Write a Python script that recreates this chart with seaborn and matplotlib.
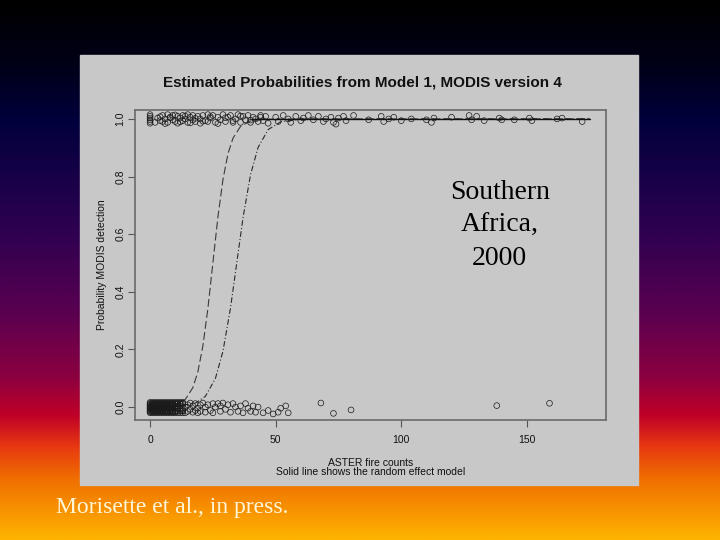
import numpy as np
import pandas as pd
import matplotlib
matplotlib.use("Agg")
import matplotlib.pyplot as plt
from matplotlib.colors import LinearSegmentedColormap
from matplotlib.patches import Rectangle
import seaborn as sns

# ----------------------------- #
#  Data
# ----------------------------- #
# detected fires (y ~ 1), x = ASTER fire counts, dy = vertical jitter
top_x = [
    0, 0, 0, 0, 0, 0, 3, 4, 5, 5,
    6, 7, 7, 8, 9, 9, 10, 11, 11, 12,
    13, 13, 14, 15, 15, 16, 17, 17, 18, 19,
    20, 20, 21, 22, 23, 23, 24, 25, 26, 27,
    28, 29, 30, 31, 32, 33, 34, 35, 36, 37,
    38, 39, 40, 41, 42, 43, 44, 45, 46, 47,
    50, 51, 53, 55, 56, 58, 60, 61, 63, 65,
    67, 69, 70, 72, 73, 74, 75, 77, 78, 81,
    87, 92, 93, 95, 97, 100, 104, 110, 112, 113,
    120, 127, 128, 130, 133, 139, 140, 145, 151, 152,
    162, 164, 172,
    2, 4, 6, 8, 10, 12, 14, 16, 18, 21,
    24, 27, 30, 33, 36, 40, 44]
top_dy = [
    0.015, 0.009, 0.003, -0.003, -0.009, -0.015, 0.003, -0.006, 0.012, -0.009,
    0.0, 0.015, -0.012, 0.006, -0.003, 0.012, -0.009, 0.009, -0.015, 0.003,
    0.012, -0.006, 0.0, 0.015, -0.012, 0.006, -0.003, 0.012, -0.009, 0.009,
    0.0, -0.015, 0.012, -0.006, 0.015, -0.009, 0.003, 0.012, -0.012, 0.006,
    -0.003, 0.015, -0.009, 0.006, 0.012, -0.006, 0.0, 0.015, -0.012, 0.009,
    -0.003, 0.012, -0.012, 0.006, 0.0, -0.009, 0.012, -0.006, 0.009, -0.015,
    0.006, -0.009, 0.012, 0.0, -0.012, 0.009, -0.006, 0.003, 0.012, -0.003,
    0.009, -0.009, 0.0, 0.006, -0.012, -0.018, 0.003, 0.009, -0.006, 0.012,
    -0.003, 0.009, -0.009, 0.0, 0.006, -0.006, 0.0, -0.003, -0.012, 0.003,
    0.006, 0.012, -0.003, 0.009, -0.006, 0.003, -0.003, -0.003, 0.003, -0.006,
    0.0, 0.003, -0.009,
    -0.012, 0.008, -0.016, 0.004, 0.014, -0.01, 0.01, -0.014, 0.002, -0.008,
    0.008, -0.016, 0.004, -0.012, 0.01, -0.004, 0.006]

# missed fires (y ~ 0): the solid block near zero, counts per fire count
zero_x = [0, 1, 2, 3, 4, 5, 6, 7, 8, 9, 10, 11, 12, 13]
zero_n = [13, 13, 13, 13, 13, 13, 12, 12, 11, 10, 9, 8, 6, 5]
zero_dy = [-0.02, 0.016, -0.014, 0.01, -0.008, 0.004, -0.002, 0.013, -0.017,
           0.007, -0.011, 0.001, -0.005]

# missed fires, sparse part
bot_x = [
    12, 13, 13, 14, 14, 15, 15, 16, 16, 17,
    17, 18, 18, 19, 19, 20, 20, 21, 22, 22,
    23, 24, 25, 25, 26, 27, 28, 28, 29, 30,
    31, 32, 33, 34, 35, 36, 37, 38, 39, 40,
    41, 42, 43, 45, 47, 49, 51, 52, 54, 55,
    68, 73, 80, 138, 159]
bot_dy = [
    0.012, -0.012, 0.014, 0.0, -0.02, 0.008, -0.015, 0.014, -0.008, 0.004,
    -0.018, 0.012, -0.012, -0.004, -0.02, 0.008, -0.015, 0.014, 0.0, -0.018,
    0.008, -0.012, 0.012, -0.02, 0.0, 0.012, -0.015, 0.004, 0.014, -0.008,
    0.008, -0.018, 0.012, 0.0, -0.015, 0.004, -0.02, 0.012, -0.004, -0.015,
    0.004, -0.018, 0.0, -0.02, -0.012, -0.024, -0.018, -0.004, 0.004, -0.02,
    0.014, -0.022, -0.01, 0.005, 0.013]

# fitted curves
dash_x = [0, 5, 10, 14, 17, 19, 21, 23, 25, 27, 29, 31, 33, 36, 40, 45, 60, 175]
dash_y = [0.0003, 0.0014, 0.007, 0.026, 0.067, 0.121, 0.211, 0.341, 0.5,
          0.659, 0.789, 0.879, 0.933, 0.974, 0.993, 0.9986, 1.0, 1.0]
dot_x = [0, 10, 18, 22, 26, 29, 32, 34.5, 37, 40, 43, 47, 52, 60, 175]
dot_y = [0.0001, 0.0017, 0.0135, 0.037, 0.099, 0.193, 0.343, 0.5, 0.657,
         0.807, 0.901, 0.963, 0.99, 0.9987, 1.0]
solid_x = [40, 175]
solid_y = [1.0, 1.0]

x_ticks = [0, 50, 100, 150]
y_ticks = [0.0, 0.2, 0.4, 0.6, 0.8, 1.0]

# ----------------------------- #
#  Build point table
# ----------------------------- #
zx, zy = [], []
for xv, n in zip(zero_x, zero_n):
    for dy in zero_dy[:n]:
        zx.append(xv)
        zy.append(dy)

pts = pd.DataFrame({
    'count': top_x + bot_x + zx,
    'prob': [1 + d for d in top_dy] + bot_dy + zy,
})

# ----------------------------- #
#  Slide
# ----------------------------- #
sns.set_style("white")
plt.rcParams['font.family'] = ['Liberation Sans', 'DejaVu Sans']

fig = plt.figure(figsize=(7.2, 5.4), dpi=100)

bg = fig.add_axes([0, 0, 1, 1], zorder=-10)
slide_cmap = LinearSegmentedColormap.from_list("slide", [
    (0.0, "#000000"), (0.12, "#000018"), (0.22, "#00003c"),
    (0.42, "#2c0050"), (0.58, "#5a0050"), (0.70, "#8c0040"),
    (0.77, "#c00028"), (0.83, "#e83a10"), (0.89, "#f07000"),
    (1.0, "#ffb400")])
bg.imshow(np.linspace(0, 1, 256).reshape(-1, 1), aspect='auto',
          cmap=slide_cmap, extent=[0, 1, 0, 1])
bg.set_axis_off()

fig.add_artist(Rectangle((0.1111, 0.1019), 0.775, 0.7963,
                         transform=fig.transFigure, color="#c8c8c8", zorder=-5))

ax = fig.add_axes([0.1875, 0.2222, 0.6542, 0.5741])
ax.set_facecolor("none")

sns.scatterplot(data=pts, x='count', y='prob', ax=ax, marker='o', s=17,
                fc='none', ec='#1a1a1a', linewidth=0.5, zorder=3)
sns.lineplot(x=dash_x, y=dash_y, ax=ax, color='#3a3a3a', lw=0.8,
             linestyle=(0, (7, 3)), zorder=2)
sns.lineplot(x=dot_x, y=dot_y, ax=ax, color='#2a2a2a', lw=0.8,
             linestyle=(0, (5, 2, 1, 2)), zorder=2)
sns.lineplot(x=solid_x, y=solid_y, ax=ax, color='#111111', lw=1.0, zorder=2)

ax.set_xlim(-6, 181.5)
ax.set_ylim(-0.045, 1.031)
ax.set_xticks(x_ticks)
ax.set_yticks(y_ticks)
ax.set_xticklabels([str(t) for t in x_ticks], fontsize=7.5, color='#111111')
ax.set_yticklabels([f"{t:.1f}" for t in y_ticks], fontsize=7.5,
                   rotation=90, va='center', color='#111111')
ax.tick_params(axis='both', direction='out', length=5, width=0.8,
               color='#555555', left=True, bottom=True)
ax.tick_params(axis='x', pad=6)
ax.tick_params(axis='y', pad=2)
for s in ax.spines.values():
    s.set_color('#6a6a6a')
    s.set_linewidth(1.2)

ax.set_xlabel("ASTER fire counts\nSolid line shows the random effect model",
              fontsize=7.5, color='#111111', labelpad=9, linespacing=0.95)
ax.set_ylabel("Probability MODIS detection", fontsize=7.5, color='#111111',
              labelpad=6)

fig.text(0.504, 0.848, "Estimated Probabilities from Model 1, MODIS version 4",
         ha='center', va='center', fontsize=11, fontweight='bold',
         color='#111111')

fig.text(0.694, 0.582, "Southern\nAfrica,\n2000", ha='center', va='center',
         fontsize=20, family=['Liberation Serif', 'DejaVu Serif'],
         color='black', linespacing=1.42)

fig.text(0.078, 0.06, "Morisette et al., in press.", ha='left', va='center',
         fontsize=17, family=['Liberation Serif', 'DejaVu Serif'],
         color='#fff6d8')

fig.savefig("out.png", dpi=100)
